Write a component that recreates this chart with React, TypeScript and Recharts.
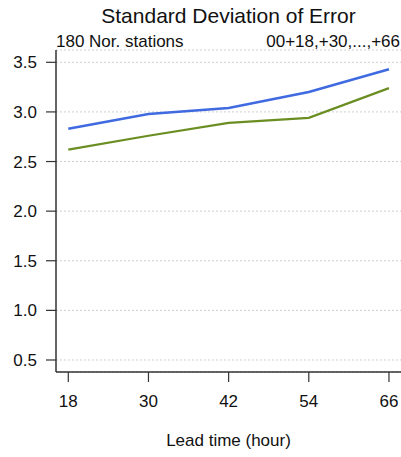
import { LineChart, Line, XAxis, YAxis, CartesianGrid } from "recharts";

const leadTimes = [18, 30, 42, 54, 66];
const blueSd = [2.83, 2.98, 3.04, 3.2, 3.43];
const greenSd = [2.62, 2.76, 2.89, 2.94, 3.24];
const yTicks = [0.5, 1.0, 1.5, 2.0, 2.5, 3.0, 3.5];

const data = leadTimes.map((t, i) => ({ t, blue: blueSd[i], green: greenSd[i] }));

const font = "'Liberation Sans', Arial, Helvetica, sans-serif";
const axisColor = "#333";
const xDomain = [16.16, 68.25];

export default function App() {
    return (
        <div style={{ position: "absolute", left: 0, top: 0, width: 401, height: 457, overflow: "hidden", fontFamily: font }}>
            <LineChart
                width={404}
                height={457}
                data={data}
                margin={{ top: 50, right: 0, bottom: 0, left: 0 }}
            >
                <CartesianGrid vertical={false} stroke="#cfcfcf" strokeDasharray="2 2" />
                <XAxis
                    dataKey="t"
                    type="number"
                    domain={xDomain}
                    allowDataOverflow
                    ticks={leadTimes}
                    height={85}
                    tickSize={10}
                    tickMargin={13}
                    axisLine={{ stroke: axisColor, strokeWidth: 1.5 }}
                    tickLine={{ stroke: axisColor, strokeWidth: 1.2 }}
                    tick={{ fill: "#111", fontSize: 17, fontFamily: font }}
                    label={{ value: "Lead time (hour)", position: "insideBottom", offset: 11, dx: -1.5, fill: "#111", fontSize: 17, fontFamily: font }}
                />
                <XAxis
                    xAxisId="top"
                    orientation="top"
                    dataKey="t"
                    type="number"
                    domain={xDomain}
                    allowDataOverflow
                    height={0}
                    tick={false}
                    tickLine={false}
                    axisLine={{ stroke: axisColor, strokeWidth: 1.5 }}
                />
                <YAxis
                    type="number"
                    domain={[0.379, 3.624]}
                    allowDataOverflow
                    ticks={yTicks}
                    width={56}
                    tickSize={10}
                    tickMargin={9}
                    tickFormatter={(v: number) => v.toFixed(1)}
                    axisLine={{ stroke: axisColor, strokeWidth: 1.5 }}
                    tickLine={{ stroke: axisColor, strokeWidth: 1.2 }}
                    tick={{ fill: "#111", fontSize: 17, fontFamily: font }}
                />
                <Line dataKey="blue" stroke="#3f6ae0" strokeWidth={2.5} dot={false} isAnimationActive={false} />
                <Line dataKey="green" stroke="#6b8e23" strokeWidth={2.2} dot={false} isAnimationActive={false} />
            </LineChart>
            <svg width={401} height={50} style={{ position: "absolute", left: 0, top: 0, pointerEvents: "none" }}>
                <text x={228.5} y={23} textAnchor="middle" fontSize={21} fontFamily={font} fill="#111">
                    Standard Deviation of Error
                </text>
                <text x={56} y={47} textAnchor="start" fontSize={17} fontFamily={font} fill="#111">
                    180 Nor. stations
                </text>
                <text x={400} y={47} textAnchor="end" fontSize={17} fontFamily={font} fill="#111">
                    00+18,+30,...,+66
                </text>
            </svg>
        </div>
    );
}
